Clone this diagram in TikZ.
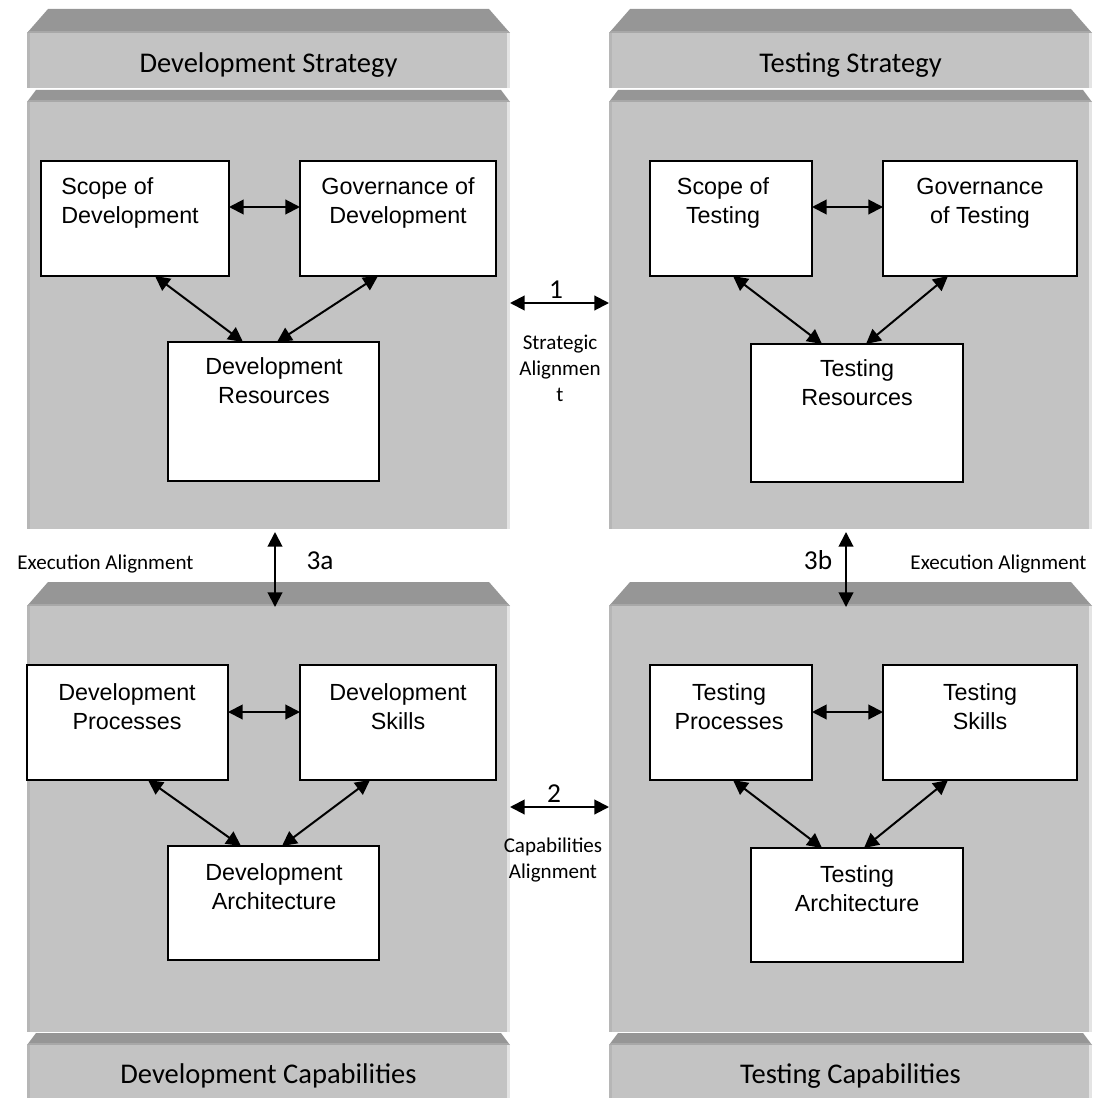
\documentclass[tikz,border=0pt]{standalone}
\usepackage{fontspec}
\setmainfont{Carlito}
\newfontfamily\boxfont{Liberation Sans}
\usetikzlibrary{arrows.meta,fit}

\definecolor{facegray}{RGB}{195,195,195}
\definecolor{bevelgray}{RGB}{150,150,150}
\definecolor{bevelband}{RGB}{168,168,168}
\definecolor{edgedark}{RGB}{182,182,182}
\definecolor{edgelight}{RGB}{228,228,228}

% one stone slab: name, left x, right x, top of bevel, top of face, bottom of face, bevel inset
\newcommand\drawslab[7]{%
  \fill[bevelgray] (#2,#5) -- (#2+#7,#4) -- (#3-#7,#4) -- (#3,#5) -- cycle;
  \fill[bevelband] (#2+1,#5-2) rectangle (#3-1,#5);
  \node[face, fit={(#2,#5) (#3,#6)}] (#1) {};
  \fill[edgedark] (#2,#5) rectangle (#2+3,#6);
  \fill[edgelight] (#3-3,#5) rectangle (#3,#6);
}

\begin{document}
\begin{tikzpicture}[x=0.75pt,y=-0.75pt,
  face/.style={fill=facegray, draw=none, inner sep=0pt, outer sep=0pt},
  box/.style={draw=black, line width=1.4pt, fill=white, inner sep=0pt, outer sep=0pt},
  boxtext/.style={font=\boxfont\fontsize{17.5pt}{21.75pt}\selectfont, align=center, inner sep=0pt},
  headtext/.style={font=\fontsize{21.4pt}{25pt}\selectfont, inner sep=0pt},
  smalltext/.style={font=\fontsize{15.8pt}{19.5pt}\selectfont, align=center, inner sep=0pt},
  numtext/.style={font=\fontsize{20.5pt}{24pt}\selectfont, inner sep=0pt},
  arr/.style={{Triangle[length=11pt,width=11pt]}-{Triangle[length=11pt,width=11pt]}, line width=1.5pt}]

\useasboundingbox (0,0) rectangle (1095,1098);

% slabs
\drawslab{dsHead}{27}{510}{9}{33}{88}{21}
\drawslab{dsBody}{27}{510}{90}{102}{529}{9}
\drawslab{tsHead}{609}{1092}{9}{33}{88}{21}
\drawslab{tsBody}{609}{1092}{90}{102}{529}{9}
\drawslab{dcBody}{27}{510}{582}{606}{1032}{21}
\drawslab{dcFoot}{27}{510}{1033}{1045}{1098}{9}
\drawslab{tcBody}{609}{1092}{582}{606}{1032}{21}
\drawslab{tcFoot}{609}{1092}{1033}{1045}{1098}{9}

% slab titles
\node[headtext, anchor=base] (dsTitle) at (268.5,73) {Development Strategy};
\node[headtext, anchor=base] (tsTitle) at (850.5,73) {Testing Strategy};
\node[headtext, anchor=base] (dcTitle) at (268.5,1083) {Development Capabilities};
\node[headtext, anchor=base] (tcTitle) at (850.5,1083) {Testing Capabilities};

% development strategy
\node[box, fit={(41,161) (229,276)}] (scopeDev) {};
\node[box, fit={(300,161) (496,276)}] (govDev) {};
\node[box, fit={(168,342) (379,481)}] (resDev) {};
\node[boxtext, anchor=north west, align=left] (scopeDevT) at (61,177.5) {Scope of\\Development};
\node[boxtext, anchor=north] (govDevT) at (398,177.5) {Governance of\\Development};
\node[boxtext, anchor=north] (resDevT) at (274,357.5) {Development\\Resources};
\draw[arr] (scopeDev.east |- 0,207) -- (govDev.west |- 0,207);
\draw[arr] (scopeDev.south -| 155,0) -- (resDev.north -| 243,0);
\draw[arr] (govDev.south -| 378,0) -- (resDev.north -| 277,0);

% testing strategy
\node[box, fit={(650,161) (812,276)}] (scopeTest) {};
\node[box, fit={(883,161) (1077,276)}] (govTest) {};
\node[box, fit={(751,344) (963,482)}] (resTest) {};
\node[boxtext, anchor=north] (scopeTestT) at (723,177.5) {Scope of\\Testing};
\node[boxtext, anchor=north] (govTestT) at (980,177.5) {Governance\\of Testing};
\node[boxtext, anchor=north] (resTestT) at (857,359.5) {Testing\\Resources};
\draw[arr] (scopeTest.east |- 0,207) -- (govTest.west |- 0,207);
\draw[arr] (scopeTest.south -| 733,0) -- (resTest.north -| 822,0);
\draw[arr] (govTest.south -| 948,0) -- (resTest.north -| 866,0);

% development capabilities
\node[box, fit={(27,665) (228,780)}] (procDev) {};
\node[box, fit={(300,665) (496,780)}] (skillDev) {};
\node[box, fit={(168,846) (379,960)}] (archDev) {};
\node[boxtext, anchor=north] (procDevT) at (127,683.5) {Development\\Processes};
\node[boxtext, anchor=north] (skillDevT) at (398,683.5) {Development\\Skills};
\node[boxtext, anchor=north] (archDevT) at (274,863.5) {Development\\Architecture};
\draw[arr] (procDev.east |- 0,712) -- (skillDev.west |- 0,712);
\draw[arr] (procDev.south -| 148,0) -- (archDev.north -| 241,0);
\draw[arr] (skillDev.south -| 370,0) -- (archDev.north -| 282,0);

% testing capabilities
\node[box, fit={(650,665) (812,780)}] (procTest) {};
\node[box, fit={(883,665) (1077,780)}] (skillTest) {};
\node[box, fit={(751,848) (963,962)}] (archTest) {};
\node[boxtext, anchor=north] (procTestT) at (729,683.5) {Testing\\Processes};
\node[boxtext, anchor=north] (skillTestT) at (980,683.5) {Testing\\Skills};
\node[boxtext, anchor=north] (archTestT) at (857,865.5) {Testing\\Architecture};
\draw[arr] (procTest.east |- 0,712) -- (skillTest.west |- 0,712);
\draw[arr] (procTest.south -| 733,0) -- (archTest.north -| 822,0);
\draw[arr] (skillTest.south -| 948,0) -- (archTest.north -| 864,0);

% alignments between the slabs
\draw[arr] (dsBody.east |- 0,303) -- (tsBody.west |- 0,303);
\node[numtext, anchor=base] (one) at (556,298) {1};
\node[smalltext, anchor=north] (stratAl) at (560,335) {Strategic\\Alignmen\\t};

\draw[arr] (dcBody.east |- 0,807) -- (tcBody.west |- 0,807);
\node[numtext, anchor=base] (two) at (554,802) {2};
\node[smalltext, anchor=north] (capAl) at (553,838) {Capabilities\\Alignment};

\draw[arr] ([yshift=-2.25pt]dsBody.south -| 275,0) -- ([yshift=-0.75pt]dcBody.north -| 275,0);
\node[numtext, anchor=base] (threeA) at (320,569) {3a};
\node[smalltext, anchor=base] (execL) at (105.5,569) {Execution Alignment};

\draw[arr] ([yshift=-2.25pt]tsBody.south -| 846,0) -- ([yshift=-0.75pt]tcBody.north -| 846,0);
\node[numtext, anchor=base] (threeB) at (818,569) {3b};
\node[smalltext, anchor=base] (execR) at (998.5,569) {Execution Alignment};

\end{tikzpicture}
\end{document}
